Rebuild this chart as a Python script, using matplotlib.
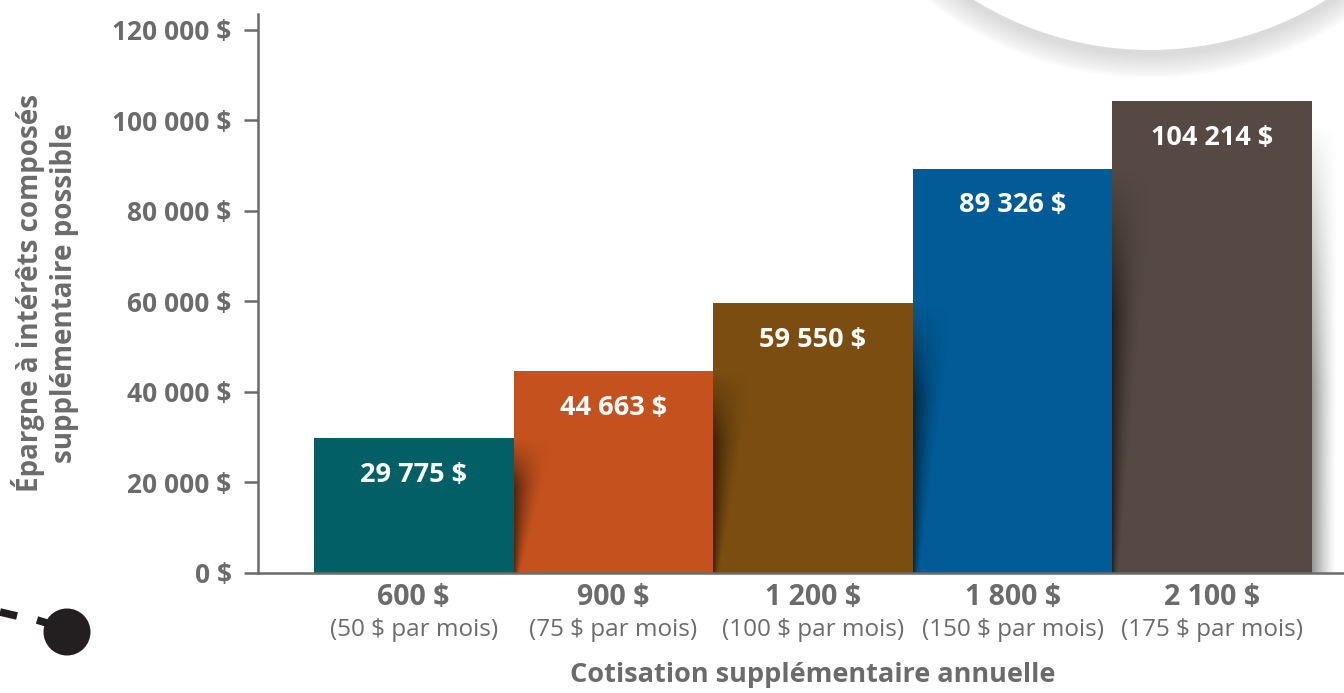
import numpy as np
import matplotlib
matplotlib.use("Agg")
import matplotlib.pyplot as plt
from matplotlib.patches import Circle
from matplotlib.transforms import blended_transform_factory

# data
categories = ["600 $", "900 $", "1 200 $", "1 800 $", "2 100 $"]
monthly = ["(50 $ par mois)", "(75 $ par mois)", "(100 $ par mois)", "(150 $ par mois)", "(175 $ par mois)"]
savings = [29775, 44663, 59550, 89326, 104214]
bar_colors = ["#035f66", "#c5521e", "#7b4d10", "#005b96", "#564943"]
yticks = [0, 20000, 40000, 60000, 80000, 100000, 120000]

GRAY = "#6b6b6b"
FONT = "Open Sans"
plt.rcParams["font.family"] = [FONT, "DejaVu Sans"]


def money(v):
    return f"{v:,}".replace(",", " ") + " $"


W, H = 1344, 693
fig = plt.figure(figsize=(W / 100, H / 100), dpi=100)

# decoration layer in pixel coordinates (behind the chart)
deco = fig.add_axes([0, 0, 1, 1], zorder=0)
deco.set_xlim(0, W)
deco.set_ylim(H, 0)
deco.axis("off")
cx, cy, r = 1150, -285, 335
for k in range(16):
    deco.add_patch(Circle((cx, cy + 4), r + 24 - k * 1.5, color="#a0a0a0", alpha=0.025, lw=0))
deco.add_patch(Circle((cx, cy), r, color="white", lw=0))
deco.plot([0, 17], [612, 616], color="#231f20", lw=5.5, solid_capstyle="butt")
deco.plot([37, 50], [620, 624], color="#231f20", lw=5.5, solid_capstyle="butt")
deco.add_patch(Circle((67, 632), 23.5, color="#231f20", lw=0))

ax = fig.add_axes([258 / W, 1 - 573 / H, 1 - 258 / W, (573 - 14) / H], zorder=1)
ax.patch.set_alpha(0)
x = np.arange(len(categories))
bars = ax.bar(x, savings, width=1.0, color=bar_colors, zorder=2, lw=0)

# shading wedges cast by each bar onto the next one
ny, nx = 120, 60
for i in range(1, len(savings)):
    top = savings[i - 1]
    left = x[i] - 0.5
    vv, uu = np.mgrid[0:1:ny * 1j, 0:1:nx * 1j]  # vv: 0 top -> 1 bottom
    width_frac = 1.0 - 0.85 * vv
    fall = np.clip(1 - uu / width_frac, 0, 1) ** 1.6
    vert = np.clip(vv / 0.35, 0, 1)
    img = np.zeros((ny, nx, 4))
    img[..., 3] = 0.55 * fall * vert
    ax.imshow(img, extent=[left, left + 0.22, 0, top], origin="upper", aspect="auto",
              zorder=3, interpolation="bilinear")

# outer shadow to the right of the last bar
last = len(savings) - 1
vv, uu = np.mgrid[0:1:ny * 1j, 0:1:nx * 1j]
width_frac = 0.9 - 0.1 * vv
fall = np.clip(1 - uu / width_frac, 0, 1) ** 1.3
vert = np.clip(vv / 0.6, 0, 1) ** 0.8
img = np.zeros((ny, nx, 4))
img[..., :3] = 0.25
img[..., 3] = 0.55 * fall * vert
ax.imshow(img, extent=[x[last] + 0.5, x[last] + 0.65, 0, savings[last] * 0.95], origin="upper",
          aspect="auto", zorder=1, interpolation="bilinear")
ax.set_xlim(-0.78, 4.66)
ax.set_ylim(0, 123500)

for b, v in zip(bars, savings):
    ax.annotate(money(v), (b.get_x() + b.get_width() / 2, v), xytext=(0, -26.5),
                textcoords="offset points", ha="center", va="center",
                color="white", fontsize=19.5, fontweight="bold", zorder=5)

for s in ["top", "right"]:
    ax.spines[s].set_visible(False)
for s in ["left", "bottom"]:
    ax.spines[s].set_color(GRAY)
    ax.spines[s].set_linewidth(1.8)
ax.spines["bottom"].set_zorder(4)

ax.set_yticks(yticks)
ax.set_yticklabels([money(v) for v in yticks])
ax.tick_params(axis="y", length=10, width=1.8, color=GRAY, pad=9, labelsize=19, labelcolor=GRAY)
for t in ax.get_yticklabels():
    t.set_fontweight("bold")

ax.set_xticks(x)
ax.set_xticklabels(categories)
ax.tick_params(axis="x", length=0, pad=7, labelsize=20.5, labelcolor=GRAY)
for t in ax.get_xticklabels():
    t.set_fontweight("bold")

tr = blended_transform_factory(ax.transData, fig.transFigure)
for xi, m in zip(x, monthly):
    ax.text(xi, 1 - 630 / H, m, transform=tr, ha="center", va="center",
            fontsize=17.5, color=GRAY)

ax.text(2, 1 - 675 / H, "Cotisation supplémentaire annuelle", transform=tr,
        ha="center", va="center", fontsize=19.5, fontweight="bold", color=GRAY)

fig.text(45 / W, 1 - 293 / H, "Épargne à intérêts composés\nsupplémentaire possible",
         rotation=90, ha="center", va="center", fontsize=20, fontweight="bold",
         color=GRAY, linespacing=1.2)

fig.savefig("out.png", dpi=100)
